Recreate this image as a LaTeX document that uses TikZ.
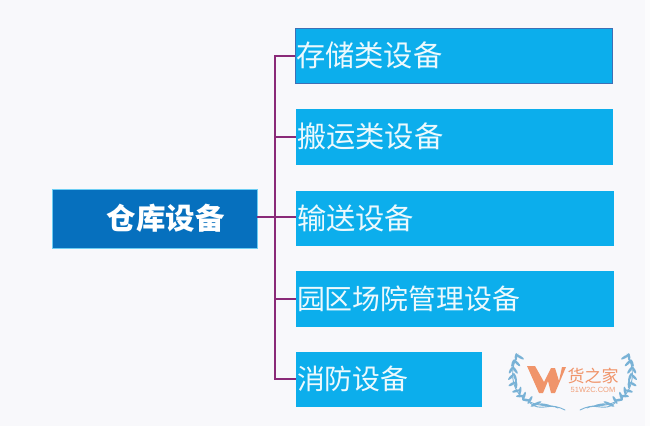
\documentclass[tikz,border=0pt]{standalone}
\usepackage{fontspec}
\newfontfamily\cjk{Noto Sans CJK SC}
\setmainfont{Liberation Sans}
\definecolor{bgc}{HTML}{F8F8FB}
\definecolor{boxc}{HTML}{0CAEEC}
\definecolor{rootc}{HTML}{0670BE}
\definecolor{linec}{HTML}{8A2A78}
\definecolor{edgec}{HTML}{3F6FB5}
\definecolor{wmo}{HTML}{F0946A}
\definecolor{wmb}{HTML}{79B2D6}
\tikzset{
  x=1pt,y=-1pt,
  itembox/.style={draw=none,fill=boxc,anchor=north west,rectangle,minimum height=55.5pt,inner xsep=1pt,inner ysep=0pt,align=left,text=white!92!boxc,font=\cjk\fontsize{29.3}{30}\selectfont,outer sep=0pt},
  smalltext/.style={font=\cjk\fontsize{27.9}{30}\selectfont},
  rootbox/.style={fill=rootc,draw=boxc!60,line width=0.5pt,anchor=north west,rectangle,minimum width=205pt,minimum height=59pt,text=white,font=\cjk\bfseries\fontsize{29.5}{31}\selectfont,outer sep=0pt,inner sep=0pt},
  link/.style={draw=linec,line width=2.4pt},
  leaf/.style={fill=wmb,draw=none},
  stem/.style={draw=wmb,line width=0.9pt,line cap=round},
}
\begin{document}
\begin{tikzpicture}
\useasboundingbox (0,0) rectangle (650,426);
\fill[bgc] (0,0) rectangle (650,426);
\fill[white!60!bgc] (645,0) rectangle (650,426);
% nodes
\node[itembox,text width=315pt] (b1) at (295,28) {\raisebox{1pt}{存储类设备}};
\draw[edgec,line width=1pt] (b1.north west) rectangle (b1.south east);
\node[itembox,text width=315pt] (b2) at (296,109) {\raisebox{1.5pt}{搬运类设备}};
\node[itembox,text width=316pt] (b3) at (296,190.5) {\raisebox{1.5pt}{输送设备}};
\node[itembox,smalltext,text width=316pt] (b4) at (296,271) {\raisebox{1.5pt}{园区场院管理设备}};
\node[itembox,smalltext,text width=184pt] (b5) at (296,351.5) {\raisebox{1.5pt}{消防设备}};
\node[rootbox,text width=205pt,align=left] (root) at (52,189) {\hspace{54.5pt}仓库设备};
% connectors
\coordinate (trunk) at (275,217);
\draw[link] (root.east |- trunk) -- (b3.west |- trunk);
\draw[link] (trunk) |- (b1.west);
\draw[link] (trunk) |- (b2.west);
\draw[link] (trunk) |- (b4.west);
\draw[link] (trunk) |- (b5.west);
% watermark
\foreach \m/\o in {1/0,-1/1145}{
\begin{scope}[xshift=\o pt,xscale=\m]
  \draw[stem] (518,354) .. controls (508,372) and (512,395) .. (530,402) .. controls (542,408) and (552,403) .. (565,410);
  \draw[stem] (530,403) .. controls (540,412) and (550,403) .. (558,408);
  \foreach \x/\y/\r in {516/357/-60,513/363/-75,511/370/-85,511/377/-100,512/384/-115,516/391/-130,520/396/-140,526/400/-150}{
    \fill[leaf] (\x,\y) ellipse[x radius=4pt,y radius=1.3pt,rotate=\r+145];
    \fill[leaf] (\x+4,\y) ellipse[x radius=4.5pt,y radius=1.3pt,rotate=\r+30];
  }
  \fill[leaf] (536,404) ellipse[x radius=6pt,y radius=1.3pt,rotate=25];
  \fill[leaf] (545,405) ellipse[x radius=6pt,y radius=1.2pt,rotate=-10];
\end{scope}}
\fill[wmo] (527,366) -- (535,366) -- (544,382) -- (551,368) -- (555,368) -- (559,381) -- (562,367) -- (566,367) -- (555,393) -- (551,393) -- (548,381) -- (543,393) -- (539,393) -- cycle;
\node[text=wmo,font=\cjk\fontsize{17}{18}\selectfont,inner sep=0pt] (wm1) at (593,376) {货之家};
\node[text=wmo!90!white,font=\fontsize{7.5}{9}\selectfont,inner sep=0pt] (wm2) at (593,390) {51W2C.COM};
\end{tikzpicture}
\end{document}
